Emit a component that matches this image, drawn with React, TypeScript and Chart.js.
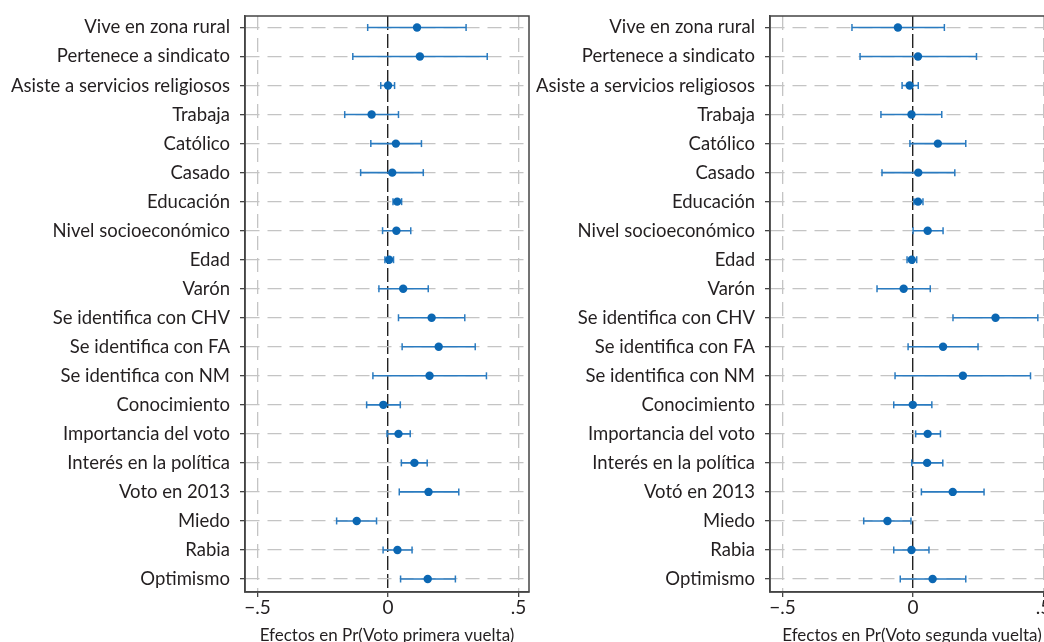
import React, { useEffect, useRef } from "react";
import { Chart, registerables } from "chart.js";

Chart.register(...registerables);

const LABELS_PRIMERA = [
  "Vive en zona rural",
  "Pertenece a sindicato",
  "Asiste a servicios religiosos",
  "Trabaja",
  "Católico",
  "Casado",
  "Educación",
  "Nivel socioeconómico",
  "Edad",
  "Varón",
  "Se identifica con CHV",
  "Se identifica con FA",
  "Se identifica con NM",
  "Conocimiento",
  "Importancia del voto",
  "Interés en la política",
  "Voto en 2013",
  "Miedo",
  "Rabia",
  "Optimismo",
];

const LABELS_SEGUNDA = [
  "Vive en zona rural",
  "Pertenece a sindicato",
  "Asiste a servicios religiosos",
  "Trabaja",
  "Católico",
  "Casado",
  "Educación",
  "Nivel socioeconómico",
  "Edad",
  "Varón",
  "Se identifica con CHV",
  "Se identifica con FA",
  "Se identifica con NM",
  "Conocimiento",
  "Importancia del voto",
  "Interés en la política",
  "Votó en 2013",
  "Miedo",
  "Rabia",
  "Optimismo",
];

// Primera vuelta
const EST_PRIMERA = [0.111, 0.122, 0.0, -0.063, 0.03, 0.016, 0.035, 0.032, 0.004, 0.058, 0.167, 0.194, 0.159, -0.018, 0.04, 0.101, 0.155, -0.12, 0.036, 0.152];
const LO_PRIMERA = [-0.078, -0.135, -0.028, -0.166, -0.066, -0.105, 0.019, -0.021, -0.012, -0.035, 0.04, 0.054, -0.058, -0.082, -0.004, 0.051, 0.043, -0.197, -0.019, 0.048];
const HI_PRIMERA = [0.299, 0.38, 0.025, 0.04, 0.128, 0.135, 0.052, 0.087, 0.021, 0.154, 0.294, 0.334, 0.377, 0.047, 0.085, 0.15, 0.271, -0.044, 0.092, 0.258];

// Segunda vuelta
const EST_SEGUNDA = [-0.058, 0.019, -0.013, -0.006, 0.095, 0.02, 0.019, 0.056, -0.005, -0.036, 0.316, 0.115, 0.191, -0.001, 0.056, 0.054, 0.152, -0.098, -0.006, 0.075];
const LO_SEGUNDA = [-0.234, -0.203, -0.042, -0.123, -0.012, -0.119, 0.003, 0.0, -0.023, -0.138, 0.153, -0.019, -0.069, -0.074, 0.01, -0.005, 0.032, -0.189, -0.074, -0.049];
const HI_SEGUNDA = [0.12, 0.243, 0.02, 0.11, 0.202, 0.16, 0.038, 0.115, 0.014, 0.066, 0.478, 0.249, 0.45, 0.072, 0.105, 0.114, 0.272, -0.008, 0.061, 0.202];

const X_TICKS = [-0.5, 0, 0.5];
const X_TICK_LABELS = ["\u2212.5", "0", ".5"];

const TITLE_PRIMERA = "Efectos en Pr(Voto primera vuelta)";
const TITLE_SEGUNDA = "Efectos en Pr(Voto segunda vuelta)";

const X_MIN = -0.548;
const X_MAX = 0.54;
const Y_MIN = -0.396;
const Y_MAX = 19.448;

const DOT = "#0b67b3";
const BAR = "#2a7bc0";
const TEXT = "#231f20";
const GRID = "#c4c4c4";
const AXIS = "#444444";
const LABEL_FONT = { family: "Lato", size: 18.5 };
const TICK_FONT = { family: "Lato", size: 19, lineHeight: 1 };
const TITLE_FONT = { family: "Lato", size: 17 };

const boxPlugin = {
  id: "box",
  afterDraw(chart: any) {
    const { ctx, chartArea } = chart;
    ctx.save();
    ctx.strokeStyle = AXIS;
    ctx.lineWidth = 1.5;
    ctx.setLineDash([]);
    ctx.strokeRect(chartArea.left, chartArea.top, chartArea.right - chartArea.left, chartArea.bottom - chartArea.top);
    ctx.restore();
  },
};

function makeConfig(labels: string[], est: number[], lo: number[], hi: number[], title: string): any {
  const bars: any[] = [];
  labels.forEach((_, i) => {
    bars.push({ x: lo[i], y: i }, { x: hi[i], y: i }, { x: NaN, y: i });
  });
  const points = est.map((v, i) => ({ x: v, y: i }));
  return {
    type: "scatter",
    data: {
      datasets: [
        {
          data: bars,
          showLine: true,
          spanGaps: false,
          borderColor: BAR,
          borderWidth: 1.6,
          pointStyle: "line",
          pointRotation: 90,
          pointRadius: 3.5,
          pointHoverRadius: 3.5,
          pointBorderWidth: 1.5,
          pointBorderColor: BAR,
          order: 2,
        },
        {
          data: points,
          pointStyle: "circle",
          pointRadius: 4.2,
          pointHoverRadius: 4.2,
          backgroundColor: DOT,
          borderColor: DOT,
          borderWidth: 0,
          order: 1,
        },
      ],
    },
    options: {
      responsive: false,
      animation: false,
      devicePixelRatio: 1,
      layout: { padding: { left: 0, right: 11, top: 16, bottom: 0 } },
      plugins: { legend: { display: false }, tooltip: { enabled: false }, title: { display: false } },
      scales: {
        x: {
          type: "linear",
          min: X_MIN,
          max: X_MAX,
          afterBuildTicks: (s: any) => {
            s.ticks = X_TICKS.map((v) => ({ value: v }));
          },
          afterFit: (s: any) => {
            s.height = 58;
            s.paddingLeft = 0;
            s.paddingRight = 0;
          },
          ticks: {
            autoSkip: false,
            maxRotation: 0,
            padding: 1,
            color: TEXT,
            font: TICK_FONT,
            callback: (_v: any, i: number) => X_TICK_LABELS[i],
          },
          grid: {
            color: (c: any) => (c.tick && c.tick.value === 0 ? "#222222" : GRID),
            lineWidth: (c: any) => (c.tick && c.tick.value === 0 ? 1.4 : 1.3),
            tickColor: AXIS,
            tickLength: 5,
            tickWidth: 1.3,
            tickBorderDash: [],
          },
          border: {
            color: AXIS,
            width: 1.5,
            dash: (c: any) => (c.tick && c.tick.value === 0 ? [14, 4] : [14, 8]),
          },
          title: {
            display: true,
            text: title,
            color: TEXT,
            font: TITLE_FONT,
            padding: { top: 0, bottom: 4 },
          },
        },
        y: {
          type: "linear",
          reverse: true,
          min: Y_MIN,
          max: Y_MAX,
          afterBuildTicks: (s: any) => {
            s.ticks = labels.map((_, i) => ({ value: i }));
          },
          afterFit: (s: any) => {
            s.width = 245;
            s.paddingTop = 0;
            s.paddingBottom = 0;
          },
          ticks: {
            autoSkip: false,
            padding: 10,
            color: TEXT,
            font: LABEL_FONT,
            callback: (_v: any, i: number) => labels[i],
          },
          grid: {
            color: GRID,
            lineWidth: 1.3,
            tickColor: AXIS,
            tickLength: 5,
            tickWidth: 1.3,
            tickBorderDash: [],
          },
          border: { color: AXIS, width: 1.5, dash: [14, 8] },
        },
      },
    },
    plugins: [boxPlugin],
  };
}

export default function App() {
  const ref1 = useRef<HTMLCanvasElement | null>(null);
  const ref2 = useRef<HTMLCanvasElement | null>(null);

  useEffect(() => {
    const c1 = new Chart(ref1.current as HTMLCanvasElement, makeConfig(LABELS_PRIMERA, EST_PRIMERA, LO_PRIMERA, HI_PRIMERA, TITLE_PRIMERA));
    const c2 = new Chart(ref2.current as HTMLCanvasElement, makeConfig(LABELS_SEGUNDA, EST_SEGUNDA, LO_SEGUNDA, HI_SEGUNDA, TITLE_SEGUNDA));
    return () => {
      c1.destroy();
      c2.destroy();
    };
  }, []);

  return (
    <div style={{ position: "fixed", left: 0, top: 0, width: 1044, height: 642, overflow: "hidden", background: "#ffffff" }}>
      <div style={{ position: "absolute", left: 0, top: 0, width: 540, height: 650 }}>
        <canvas ref={ref1} width={540} height={650} style={{ display: "block" }} />
      </div>
      <div style={{ position: "absolute", left: 525, top: 0, width: 540, height: 650 }}>
        <canvas ref={ref2} width={540} height={650} style={{ display: "block" }} />
      </div>
    </div>
  );
}
